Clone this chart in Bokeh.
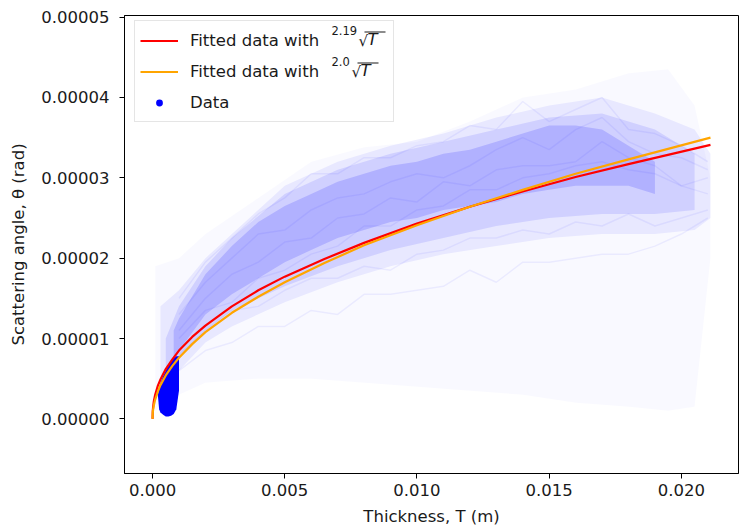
import numpy as np
from bokeh.plotting import figure
from bokeh.models import (Range1d, FixedTicker, PrintfTickFormatter, Legend, LegendItem,
                          Label, Arrow)
from bokeh.embed import file_html
from bokeh.resources import INLINE

# ---------------- data ----------------
X_TICKS = [0.0, 0.005, 0.010, 0.015, 0.020]
Y_TICKS = [0.0, 0.00001, 0.00002, 0.00003, 0.00004, 0.00005]

# fitted curves (theta in units of 1e-5 rad)
fit_T = [0.0, 0.00001, 0.00002, 0.00005, 0.0001, 0.0002, 0.0003, 0.0005, 0.00075, 0.001,
         0.0015, 0.002, 0.003, 0.004, 0.005, 0.0065, 0.008, 0.010, 0.012, 0.014,
         0.016, 0.018, 0.0211]
fit_red = [0.0, 0.10, 0.14, 0.22, 0.30, 0.41, 0.49, 0.62, 0.74, 0.85,
           1.02, 1.16, 1.40, 1.60, 1.77, 1.99, 2.19, 2.43, 2.64, 2.83,
           3.01, 3.17, 3.41]
fit_orange = [0.0, 0.08, 0.11, 0.17, 0.24, 0.34, 0.42, 0.54, 0.66, 0.76,
              0.93, 1.08, 1.32, 1.52, 1.70, 1.94, 2.16, 2.41, 2.64, 2.85,
              3.05, 3.23, 3.50]

# cloud of data traces: density envelopes (units 1e-5 rad)
outer_T = [0.0001, 0.001, 0.002, 0.004, 0.006, 0.008, 0.010, 0.012, 0.014, 0.016, 0.018, 0.0195, 0.0205, 0.0211]
outer_hi = [1.9, 2.0, 2.3, 2.75, 3.2, 3.38, 3.45, 3.7, 4.0, 4.1, 4.3, 4.35, 3.9, 3.0]
outer_lo = [0.1, 0.3, 0.45, 0.5, 0.5, 0.45, 0.4, 0.35, 0.3, 0.2, 0.15, 0.1, 0.15, 2.0]

light_T = [0.0003, 0.001, 0.002, 0.003, 0.005, 0.007, 0.009, 0.011, 0.013, 0.015, 0.017, 0.019, 0.0205, 0.0211]
light_hi = [1.4, 1.6, 2.0, 2.3, 2.9, 3.2, 3.4, 3.55, 3.75, 3.9, 4.0, 3.8, 3.6, 3.3]
light_lo = [0.4, 0.6, 0.95, 1.15, 1.45, 1.7, 1.9, 2.05, 2.15, 2.25, 2.3, 2.3, 2.35, 2.5]

mid_T = [0.0005, 0.001, 0.002, 0.003, 0.005, 0.007, 0.009, 0.011, 0.013, 0.015, 0.017, 0.019, 0.0205]
mid_hi = [1.0, 1.4, 1.9, 2.25, 2.8, 3.1, 3.3, 3.45, 3.6, 3.75, 3.8, 3.6, 3.3]
mid_lo = [0.5, 0.75, 1.1, 1.35, 1.65, 1.9, 2.1, 2.25, 2.4, 2.5, 2.55, 2.55, 2.6]

core_T = [0.0008, 0.001, 0.002, 0.003, 0.004, 0.005, 0.006, 0.007, 0.008, 0.009, 0.010,
          0.011, 0.012, 0.013, 0.014, 0.015, 0.016, 0.017, 0.018, 0.019]
core_hi = [1.1, 1.25, 1.8, 2.15, 2.45, 2.65, 2.8, 2.95, 3.05, 3.15, 3.2,
           3.3, 3.35, 3.45, 3.55, 3.65, 3.65, 3.6, 3.4, 3.2]
core_lo = [0.75, 0.85, 1.3, 1.55, 1.75, 1.95, 2.1, 2.25, 2.35, 2.45, 2.5,
           2.6, 2.65, 2.7, 2.8, 2.85, 2.9, 2.9, 2.9, 2.8]

# a few individual traces for texture
trace_T = [0.001, 0.002, 0.003, 0.004, 0.005, 0.006, 0.007, 0.008, 0.009, 0.010, 0.011,
           0.012, 0.013, 0.014, 0.015, 0.016, 0.017, 0.018, 0.019, 0.020, 0.021]
traces = [
    [1.3, 1.7, 2.0, 2.3, 2.35, 2.6, 2.75, 2.8, 2.95, 3.05, 3.0, 3.15, 3.35, 3.5, 3.35, 3.6, 3.75, 3.45, 3.3, 3.25, 3.1],
    [1.0, 1.35, 1.45, 1.75, 1.85, 2.05, 2.15, 2.4, 2.4, 2.6, 2.65, 2.85, 2.85, 3.0, 3.05, 3.15, 3.2, 3.1, 3.05, 2.9, 2.8],
    [0.8, 1.1, 1.35, 1.4, 1.6, 1.75, 1.75, 1.9, 1.85, 2.05, 2.1, 2.25, 2.25, 2.35, 2.3, 2.45, 2.4, 2.55, 2.4, 2.5, 2.6],
    [1.5, 1.95, 2.25, 2.55, 2.75, 3.05, 3.05, 3.25, 3.25, 3.4, 3.45, 3.65, 3.6, 3.95, 3.7, 3.85, 4.0, 3.6, 3.55, 3.4, 3.2],
    [0.6, 0.85, 0.95, 1.15, 1.15, 1.35, 1.3, 1.55, 1.55, 1.6, 1.65, 1.85, 1.7, 1.95, 1.95, 2.0, 2.05, 2.05, 2.15, 2.3, 2.5],
    [1.1, 1.5, 1.8, 1.95, 2.2, 2.25, 2.5, 2.55, 2.75, 2.7, 2.95, 2.9, 3.1, 3.15, 3.15, 3.2, 3.45, 3.25, 3.15, 2.9, 3.0],
]

# dense blob of early data points: outline and sample points inside it
blob_T = [0.0002, 0.00025, 0.0003, 0.0004, 0.0005, 0.0006, 0.0007, 0.0008, 0.0009, 0.001]
blob_hi = [0.30, 0.38, 0.45, 0.53, 0.60, 0.66, 0.71, 0.75, 0.78, 0.78]
blob_lo = [0.30, 0.12, 0.08, 0.05, 0.03, 0.03, 0.04, 0.06, 0.12, 0.35]
pts_T = [0.0005, 0.0006, 0.0006, 0.0007, 0.0007]
pts_y = [0.35, 0.2, 0.45, 0.3, 0.55]

S = 1e-5
FONT = "DejaVu Sans"
TXT = "#1a1a1a"

p = figure(width=739, height=528, output_backend="svg", toolbar_location=None,
           x_range=Range1d(-0.00106, 0.02216), y_range=Range1d(-0.0000068, 0.0000502),
           min_border_left=124, min_border_right=1, min_border_top=15, min_border_bottom=55)

p.xgrid.visible = False
p.ygrid.visible = False
p.outline_line_color = "black"
p.outline_line_width = 1
p.background_fill_color = "white"
p.border_fill_color = "white"

BLUE = "#0000ff"
p.varea(x=outer_T, y1=np.array(outer_lo) * S, y2=np.array(outer_hi) * S, fill_color=BLUE, fill_alpha=0.025)
p.varea(x=light_T, y1=np.array(light_lo) * S, y2=np.array(light_hi) * S, fill_color=BLUE, fill_alpha=0.065)
p.varea(x=mid_T, y1=np.array(mid_lo) * S, y2=np.array(mid_hi) * S, fill_color=BLUE, fill_alpha=0.10)
p.varea(x=core_T, y1=np.array(core_lo) * S, y2=np.array(core_hi) * S, fill_color=BLUE, fill_alpha=0.15)
for tr in traces:
    p.line(trace_T, np.array(tr) * S, line_color=BLUE, line_alpha=0.06, line_width=1.5)
p.varea(x=blob_T, y1=np.array(blob_lo) * S, y2=np.array(blob_hi) * S, fill_color=BLUE, fill_alpha=1.0)
r_dat = p.scatter(x=pts_T, y=np.array(pts_y) * S, marker="circle", size=6,
                  fill_color=BLUE, line_color=BLUE, line_width=0)

r_red = p.line(fit_T, np.array(fit_red) * S, line_color="#ff0000", line_width=2.2)
r_or = p.line(fit_T, np.array(fit_orange) * S, line_color="#ffa500", line_width=2.2)

# axes
for ax in (p.xaxis[0], p.yaxis[0]):
    ax.major_label_text_font = FONT
    ax.major_label_text_font_size = "16.5px"
    ax.major_label_text_color = TXT
    ax.axis_label_text_font = FONT
    ax.axis_label_text_font_size = "16.5px"
    ax.axis_label_text_font_style = "normal"
    ax.axis_label_text_color = TXT
    ax.major_tick_out = 5
    ax.major_tick_in = 0
    ax.minor_tick_out = 0
    ax.minor_tick_in = 0
    ax.axis_line_color = "black"
    ax.major_tick_line_color = "black"

p.xaxis.ticker = FixedTicker(ticks=X_TICKS)
p.yaxis.ticker = FixedTicker(ticks=Y_TICKS)
p.xaxis.formatter = PrintfTickFormatter(format="%.3f")
p.yaxis.formatter = PrintfTickFormatter(format="%.5f")
p.xaxis.axis_label = "Thickness, T (m)"
p.yaxis.axis_label = "Scattering angle, θ (rad)"
p.xaxis.major_label_standoff = 5
p.yaxis.major_label_standoff = 10
p.xaxis.axis_label_standoff = 8
p.yaxis.axis_label_standoff = 10

legend = Legend(items=[
    LegendItem(label="Fitted data with", renderers=[r_red]),
    LegendItem(label="Fitted data with", renderers=[r_or]),
    LegendItem(label="Data", renderers=[r_dat]),
])
legend.margin = 0
legend.padding = 5
legend.spacing = 3
legend.glyph_width = 38
legend.glyph_height = 17
legend.label_height = 28
legend.label_width = 198
legend.label_standoff = 12
legend.label_text_font = FONT
legend.label_text_font_size = "16.5px"
legend.label_text_color = TXT
legend.border_line_color = "#cccccc"
legend.border_line_width = 1
legend.background_fill_alpha = 0.0
legend.location = (10, 351)
p.add_layout(legend)

# math parts of the legend labels: 2.19 root T, 2.0 root T
def math_part(x0, base, idx):
    p.add_layout(Label(x=x0, y=base + 17, x_units="screen", y_units="screen", text=idx,
                       text_font=FONT, text_font_size="11.5px", text_color=TXT,
                       text_baseline="alphabetic", level="overlay"))
    w = 7.0 * len(idx) - 1
    p.add_layout(Label(x=x0 + w, y=base + 7, x_units="screen", y_units="screen", text="√",
                       text_font=FONT, text_font_size="15px", text_color=TXT,
                       text_baseline="alphabetic", level="overlay"))
    p.add_layout(Label(x=x0 + w + 9, y=base + 8, x_units="screen", y_units="screen", text="T",
                       text_font=FONT, text_font_size="16.5px", text_font_style="italic",
                       text_color=TXT, text_baseline="alphabetic", level="overlay"))
    p.add_layout(Arrow(end=None, x_start=x0 + w + 6, y_start=base + 15.5, x_end=x0 + w + 27,
                       y_end=base + 15.5, start_units="screen", end_units="screen",
                       line_color=TXT, line_width=1.2, level="overlay"))

math_part(207, 426, "2.19")
math_part(207, 395, "2.0")

open("out.html", "w").write(file_html(p, INLINE))
